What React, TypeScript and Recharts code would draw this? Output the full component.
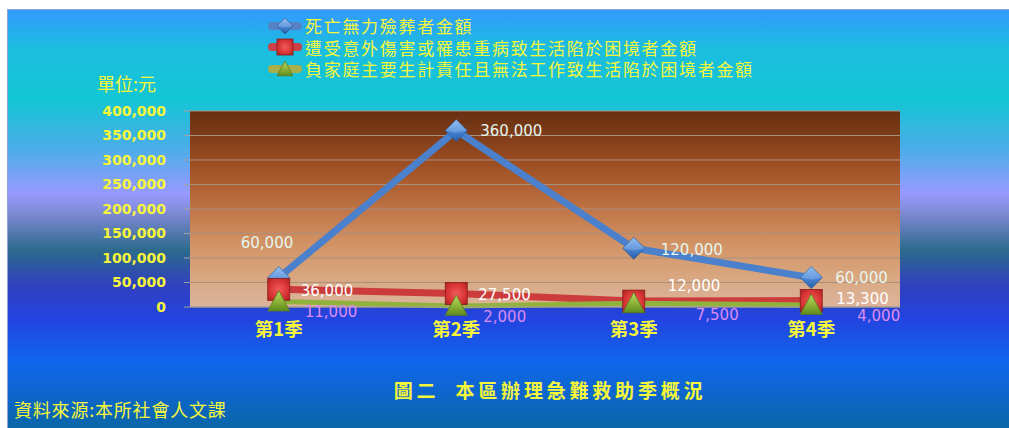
import React from 'react';
import { ComposedChart, Line, XAxis, YAxis, CartesianGrid, LabelList, Legend } from 'recharts';

const categories = ['第1季', '第2季', '第3季', '第4季'];
const funeralAmounts = [60000, 360000, 120000, 60000];
const accidentAmounts = [36000, 27500, 12000, 13300];
const breadwinnerAmounts = [11000, 2000, 7500, 4000];
const yTicks = [0, 50000, 100000, 150000, 200000, 250000, 300000, 350000, 400000];
const seriesNames = [
  '死亡無力殮葬者金額',
  '遭受意外傷害或罹患重病致生活陷於困境者金額',
  '負家庭主要生計責任且無法工作致生活陷於困境者金額',
];
const unitLabel = '單位:元';
const titleText = '圖二  本區辦理急難救助季概況';
const sourceText = '資料來源:本所社會人文課';

const data = categories.map((c, i) => ({
  cat: c,
  funeral: funeralAmounts[i],
  accident: accidentAmounts[i],
  breadwinner: breadwinnerAmounts[i],
}));

// label placement (style only): [dx from point to text start, dy]
const LABEL_POS: Record<string, [number, number][]> = {
  funeral: [[-38, -35], [24, 0], [27, 1], [24, 0]],
  accident: [[22, 1], [22, 1.5], [34, -16], [25, -1.5]],
  breadwinner: [[26, 10], [27, 11], [62, 11], [46, 11]],
};
const LABEL_COLOR: Record<string, string> = {
  funeral: '#e6f6ee',
  accident: '#ffffff',
  breadwinner: '#dc8cf2',
};

const fmt = (v: number) => v.toLocaleString('en-US');
const YELLOW = '#f6f63a';

const Diamond = ({ cx, cy, s = 11 }: any) => {
  if (cx == null || cy == null) return null;
  return (
    <g>
      <polygon points={`${cx},${cy - s} ${cx + s},${cy} ${cx},${cy + s} ${cx - s},${cy}`} fill="url(#gDiamond)" stroke="#2c5a98" strokeWidth={0.8} />
      <polygon points={`${cx},${cy - s} ${cx + s},${cy} ${cx},${cy + s * 0.2} ${cx - s},${cy}`} fill="#ffffff" fillOpacity={0.18} />
    </g>
  );
};
const Square = ({ cx, cy, s = 11 }: any) => {
  if (cx == null || cy == null) return null;
  return (
    <g>
      <rect x={cx - s} y={cy - s} width={2 * s} height={2 * s} fill="url(#gSquare)" stroke="#8a1c1c" strokeWidth={0.8} />
    </g>
  );
};
const Triangle = ({ cx, cy, s = 11 }: any) => {
  if (cx == null || cy == null) return null;
  return (
    <g>
      <polygon points={`${cx},${cy - s} ${cx + s},${cy + s * 0.85} ${cx - s},${cy + s * 0.85}`} fill="url(#gTriangle)" stroke="#5a7a1c" strokeWidth={0.8} />
    </g>
  );
};

const makeLabel = (key: string) => (props: any) => {
  const { x, y, value, index } = props;
  const [dx, dy] = LABEL_POS[key][index];
  return (
    <text x={x + dx} y={y + dy} dy="0.36em" textAnchor="start" fill={LABEL_COLOR[key]} fontFamily="'DejaVu Sans', Verdana, sans-serif" fontSize={15}>
      {fmt(value)}
    </text>
  );
};

const legendItems = [
  { name: seriesNames[0], color: '#5582c4', Marker: Diamond },
  { name: seriesNames[1], color: '#cc4048', Marker: Square },
  { name: seriesNames[2], color: '#a8ae4a', Marker: Triangle },
];

const LegendContent = () => (
  <div style={{ display: 'flex', flexDirection: 'column' }}>
    {legendItems.map(({ name, color, Marker }) => (
      <div key={name} style={{ height: 21.5, display: 'flex', alignItems: 'center' }}>
        <svg width={34} height={20} style={{ marginRight: 3, overflow: 'visible' }}>
          <line x1={4} y1={10} x2={30} y2={10} stroke={color} strokeWidth={8} strokeLinecap="round" />
          <Marker cx={17} cy={10} s={8} />
        </svg>
        <div style={{ display: 'block', height: 21.5, color: YELLOW, fontFamily: "'Noto Sans CJK TC', sans-serif", fontSize: 17, letterSpacing: 1.7, lineHeight: '21.5px', whiteSpace: 'nowrap', overflow: 'visible' }}>{name}</div>
      </div>
    ))}
  </div>
);

export default function App() {
  return (
    <div style={{ position: 'absolute', left: 0, top: 0, width: 1009, height: 428, background: '#ffffff', overflow: 'hidden' }}>
      <div
        style={{
          position: 'absolute', left: 7, top: 9, width: 1002, height: 419, boxSizing: 'border-box',
          borderLeft: '1px solid #8da6d8', borderTop: '1px solid #8da6d8',
          background: 'linear-gradient(to bottom, #3399ff 0%, #1cbde0 9%, #12c6d4 21%, #4aaee8 33%, #9999ff 44%, #7a88d0 49%, #2c6a8c 57.5%, #3040c0 66%, #2244e0 74%, #1066ee 84%, #0a66a8 100%)',
        }}
      />
      <div style={{ position: 'absolute', left: 0, top: 0 }}>
        <ComposedChart width={1009} height={428} data={data} margin={{ top: 111, right: 109, bottom: 91, left: 0 }}>
          <defs>
            <linearGradient id="plotBg" x1="0" y1="0" x2="0" y2="1">
              <stop offset="0%" stopColor="#673010" />
              <stop offset="12%" stopColor="#7e3c18" />
              <stop offset="25%" stopColor="#9a4c22" />
              <stop offset="37%" stopColor="#ad5e30" />
              <stop offset="50%" stopColor="#bf7446" />
              <stop offset="62%" stopColor="#cd8a5c" />
              <stop offset="75%" stopColor="#d59c70" />
              <stop offset="87%" stopColor="#d9a984" />
              <stop offset="100%" stopColor="#dcb49c" />
            </linearGradient>
            <linearGradient id="gDiamond" x1="0" y1="0" x2="0" y2="1">
              <stop offset="0%" stopColor="#78b0f2" />
              <stop offset="50%" stopColor="#4a88d8" />
              <stop offset="100%" stopColor="#285ca6" />
            </linearGradient>
            <radialGradient id="gSquare" cx="0.5" cy="0.5" r="0.7">
              <stop offset="0%" stopColor="#f25a5a" />
              <stop offset="60%" stopColor="#d83434" />
              <stop offset="100%" stopColor="#a82020" />
            </radialGradient>
            <linearGradient id="gTriangle" x1="0" y1="0" x2="0" y2="1">
              <stop offset="0%" stopColor="#b8d86a" />
              <stop offset="55%" stopColor="#8cb236" />
              <stop offset="100%" stopColor="#5e8a1e" />
            </linearGradient>
          </defs>
          <CartesianGrid vertical={false} stroke="#a89080" strokeWidth={1} fill="url(#plotBg)" fillOpacity={1} />
          <XAxis
            dataKey="cat"
            scale="band"
            height={30}
            axisLine={{ stroke: '#a0a0a0' }}
            tickLine={false}
            tickSize={6}
            tickMargin={10}
            tick={{ fill: YELLOW, fontFamily: "'Noto Sans CJK TC', sans-serif", fontSize: 18.5, fontWeight: 'bold' }}
          />
          <YAxis
            width={190}
            domain={[0, 400000]}
            ticks={yTicks}
            interval={0}
            tickFormatter={fmt}
            axisLine={false}
            tickLine={{ stroke: '#a0a0a0' }}
            tickSize={6}
            tickMargin={18}
            tick={{ fill: YELLOW, fontFamily: "'DejaVu Sans', Verdana, sans-serif", fontSize: 14, fontWeight: 'bold' }}
          />
          <Legend layout="vertical" align="center" verticalAlign="middle" wrapperStyle={{ left: 268, top: 15, width: 620 }} content={<LegendContent />} />
          <Line type="linear" dataKey="funeral" name={seriesNames[0]} stroke="#4a80cc" strokeWidth={7} dot={<Diamond />} activeDot={false} isAnimationActive={false}>
            <LabelList dataKey="funeral" content={makeLabel('funeral')} />
          </Line>
          <Line type="linear" dataKey="accident" name={seriesNames[1]} stroke="#cc3c3c" strokeWidth={7} dot={<Square />} activeDot={false} isAnimationActive={false}>
            <LabelList dataKey="accident" content={makeLabel('accident')} />
          </Line>
          <Line type="linear" dataKey="breadwinner" name={seriesNames[2]} stroke="#92b23e" strokeWidth={5} dot={<Triangle />} activeDot={false} isAnimationActive={false}>
            <LabelList dataKey="breadwinner" content={makeLabel('breadwinner')} />
          </Line>
        </ComposedChart>
      </div>
      <svg width={1009} height={428} style={{ position: 'absolute', left: 0, top: 0, pointerEvents: 'none' }}>
        <text x={97} y={91} fill={YELLOW} fontFamily="'Noto Sans CJK TC', sans-serif" fontSize={18}>{unitLabel}</text>
        <text x={550} y={398} textAnchor="middle" fill={YELLOW} fontFamily="'Noto Sans CJK TC', sans-serif" fontSize={19} fontWeight="bold" letterSpacing={3.8} xmlSpace="preserve" style={{ whiteSpace: 'pre' }}>{titleText}</text>
        <text x={14} y={417} fill={YELLOW} fontFamily="'Noto Sans CJK TC', sans-serif" fontSize={18} letterSpacing={0.8}>{sourceText}</text>
      </svg>
    </div>
  );
}
